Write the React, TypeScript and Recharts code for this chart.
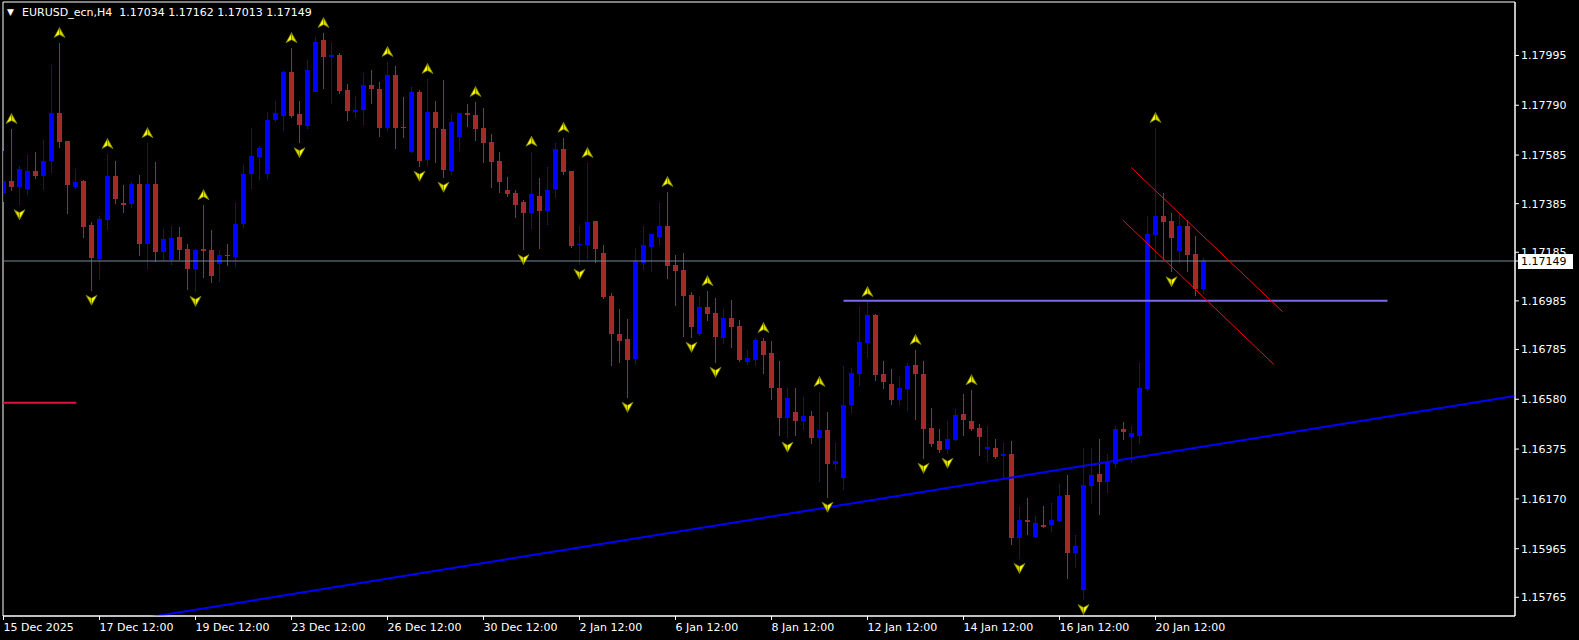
import { ComposedChart, Bar, XAxis, YAxis, Scatter, ReferenceLine, ReferenceArea } from "recharts";

// EURUSD H4 candles (bar 0 = leftmost)
const opens = [
  1.1743, 1.17479, 1.17455, 1.17446, 1.17519, 1.175, 1.17562, 1.17758, 1.17643, 1.17455,
  1.17478, 1.17297, 1.17158, 1.17317, 1.17499, 1.17386, 1.17383, 1.17466, 1.17219, 1.17466,
  1.17186, 1.17153, 1.17247, 1.17198, 1.17117, 1.17198, 1.17194, 1.17138, 1.17173, 1.17167,
  1.17301, 1.17507, 1.17578, 1.17507, 1.17729, 1.17745, 1.17927, 1.17754, 1.17704, 1.17844,
  1.18058, 1.17988, 1.17997, 1.17853, 1.17762, 1.1777, 1.17873, 1.17857, 1.17696, 1.17914,
  1.17702, 1.17599, 1.17844, 1.17566, 1.17762, 1.17692, 1.17521, 1.1766, 1.17758, 1.1775,
  1.17696, 1.17639, 1.1756, 1.17441, 1.17429, 1.17393, 1.17348, 1.17416, 1.17356, 1.17446,
  1.1761, 1.17519, 1.17215, 1.17216, 1.17313, 1.17182, 1.17006, 1.16848, 1.16828, 1.16745,
  1.17142, 1.17208, 1.17249, 1.17293, 1.17132, 1.17112, 1.1701, 1.1685, 1.1696, 1.16935,
  1.16833, 1.16914, 1.16881, 1.16734, 1.16743, 1.16819, 1.1677, 1.16628, 1.16504, 1.16527,
  1.16492, 1.16512, 1.16422, 1.16455, 1.16315, 1.16257, 1.16558, 1.16685, 1.16811, 1.16927,
  1.16684, 1.16643, 1.16578, 1.16623, 1.16721, 1.16684, 1.16463, 1.16408, 1.16376, 1.16413,
  1.16519, 1.1649, 1.16461, 1.16376, 1.1638, 1.16347, 1.16355, 1.1601, 1.16084, 1.16014,
  1.16063, 1.16063, 1.1608, 1.16187, 1.15948, 1.15796, 1.16224, 1.16273, 1.1624, 1.16314,
  1.16457, 1.16425, 1.16429, 1.16622, 1.17255, 1.17334, 1.17313, 1.1719, 1.17292, 1.17177,
  1.17034,
];
const highs = [
  1.17601, 1.17692, 1.1754, 1.17585, 1.17597, 1.17645, 1.17955, 1.18046, 1.17643, 1.17527,
  1.17481, 1.17309, 1.17333, 1.17589, 1.1756, 1.17461, 1.17474, 1.17503, 1.17634, 1.17558,
  1.1728, 1.17293, 1.17289, 1.17219, 1.17198, 1.17379, 1.17276, 1.17194, 1.17219, 1.17387,
  1.17544, 1.17696, 1.17622, 1.17762, 1.17807, 1.17931, 1.18025, 1.17807, 1.17976, 1.18071,
  1.18087, 1.18046, 1.18005, 1.17877, 1.17828, 1.17922, 1.17935, 1.17885, 1.17968, 1.17951,
  1.17824, 1.17865, 1.17853, 1.17898, 1.17807, 1.17894, 1.17754, 1.17758, 1.17795, 1.17803,
  1.17778, 1.17671, 1.17597, 1.17494, 1.17441, 1.174, 1.17599, 1.1749, 1.17537, 1.17636,
  1.17656, 1.17519, 1.17293, 1.17552, 1.17313, 1.17215, 1.17017, 1.16951, 1.1691, 1.17202,
  1.17293, 1.1726, 1.17388, 1.17433, 1.17174, 1.17182, 1.17023, 1.17006, 1.17025, 1.16998,
  1.16951, 1.16988, 1.16906, 1.16782, 1.16832, 1.16832, 1.1682, 1.16737, 1.16628, 1.16628,
  1.16591, 1.16532, 1.1661, 1.16527, 1.164, 1.16717, 1.16709, 1.1696, 1.1698, 1.16931,
  1.16737, 1.16704, 1.16671, 1.16729, 1.16783, 1.16737, 1.16545, 1.16457, 1.1649, 1.1654,
  1.16601, 1.16617, 1.16477, 1.16469, 1.16417, 1.16401, 1.16409, 1.16137, 1.16174, 1.161,
  1.16141, 1.16154, 1.16232, 1.16269, 1.16022, 1.1638, 1.1638, 1.16417, 1.16355, 1.16469,
  1.16486, 1.16469, 1.16729, 1.17334, 1.17696, 1.17428, 1.17346, 1.17346, 1.17317, 1.17251,
  1.17162,
];
const lows = [
  1.1739, 1.17438, 1.17379, 1.17422, 1.17488, 1.17442, 1.17512, 1.17615, 1.17343, 1.17446,
  1.17245, 1.17027, 1.17072, 1.17278, 1.17385, 1.17348, 1.17368, 1.17171, 1.17118, 1.17145,
  1.1715, 1.17134, 1.17153, 1.17029, 1.17022, 1.1708, 1.17057, 1.17061, 1.17129, 1.17125,
  1.17286, 1.17446, 1.17483, 1.17486, 1.17722, 1.17685, 1.17739, 1.17634, 1.17692, 1.17844,
  1.17857, 1.17795, 1.17836, 1.17725, 1.17737, 1.17708, 1.17795, 1.17659, 1.17684, 1.17611,
  1.17656, 1.17595, 1.17537, 1.17541, 1.17553, 1.17492, 1.17503, 1.17603, 1.17702, 1.17644,
  1.17553, 1.17451, 1.1743, 1.17414, 1.17327, 1.17194, 1.17282, 1.17199, 1.17297, 1.17409,
  1.17504, 1.17204, 1.17134, 1.17157, 1.17142, 1.16994, 1.16718, 1.1673, 1.16586, 1.16726,
  1.17112, 1.17105, 1.17215, 1.17076, 1.16965, 1.16837, 1.16833, 1.16842, 1.16903, 1.1673,
  1.16808, 1.16792, 1.16734, 1.16722, 1.16718, 1.16685, 1.16578, 1.1643, 1.16422, 1.1643,
  1.16455, 1.16397, 1.16241, 1.16175, 1.1629, 1.16208, 1.16523, 1.16636, 1.16751, 1.16656,
  1.16623, 1.16558, 1.16558, 1.16533, 1.16496, 1.16335, 1.16385, 1.1636, 1.16356, 1.16409,
  1.16429, 1.1645, 1.16347, 1.16322, 1.16335, 1.16252, 1.15981, 1.15923, 1.16022, 1.1601,
  1.16051, 1.16034, 1.16075, 1.15841, 1.15886, 1.15754, 1.1615, 1.16104, 1.16195, 1.16298,
  1.16413, 1.16318, 1.16397, 1.16613, 1.17148, 1.17152, 1.17103, 1.1714, 1.17103, 1.17006,
  1.17013,
];
const closes = [
  1.17479, 1.17455, 1.17527, 1.17519, 1.175, 1.1756, 1.17758, 1.1764, 1.17463, 1.17474,
  1.1729, 1.17162, 1.17322, 1.17499, 1.17405, 1.17381, 1.17466, 1.17219, 1.17466, 1.17186,
  1.17239, 1.17243, 1.17194, 1.17117, 1.17194, 1.1719, 1.17088, 1.17173, 1.17171, 1.17301,
  1.17507, 1.17581, 1.17614, 1.17729, 1.17758, 1.17927, 1.17745, 1.17708, 1.17935, 1.1805,
  1.17988, 1.17997, 1.17848, 1.17766, 1.1777, 1.17873, 1.17857, 1.17696, 1.17914, 1.17698,
  1.17696, 1.17844, 1.17562, 1.17762, 1.17698, 1.17525, 1.17721, 1.17758, 1.17751, 1.17693,
  1.17636, 1.17558, 1.17474, 1.17426, 1.17381, 1.17348, 1.17425, 1.17356, 1.17441, 1.1761,
  1.17516, 1.17212, 1.17218, 1.17309, 1.172, 1.17002, 1.1685, 1.16821, 1.16743, 1.17149,
  1.17215, 1.1726, 1.17293, 1.1713, 1.17109, 1.17006, 1.16878, 1.1696, 1.16932, 1.16837,
  1.16914, 1.16878, 1.16743, 1.1675, 1.16824, 1.16763, 1.16628, 1.16504, 1.16585, 1.16492,
  1.16512, 1.16422, 1.16455, 1.16315, 1.16326, 1.16556, 1.16688, 1.16816, 1.16927, 1.1668,
  1.16652, 1.16578, 1.16626, 1.16717, 1.16685, 1.16459, 1.16397, 1.16372, 1.16416, 1.16515,
  1.16495, 1.16458, 1.16425, 1.16384, 1.16343, 1.16355, 1.1601, 1.16084, 1.16075, 1.16071,
  1.16055, 1.16084, 1.16182, 1.15948, 1.15977, 1.16228, 1.16269, 1.1624, 1.16318, 1.16457,
  1.16445, 1.1644, 1.16626, 1.1726, 1.17334, 1.1731, 1.17244, 1.17292, 1.17173, 1.17033,
  1.17149,
];

const timeTickIdx = [0, 12, 24, 36, 48, 60, 72, 84, 96, 108, 120, 132, 144];
const timeLabels = [
  "15 Dec 2025", "17 Dec 12:00", "19 Dec 12:00", "23 Dec 12:00", "26 Dec 12:00",
  "30 Dec 12:00", "2 Jan 12:00", "6 Jan 12:00", "8 Jan 12:00", "12 Jan 12:00",
  "14 Jan 12:00", "16 Jan 12:00", "20 Jan 12:00",
];
const priceTicks = [
  1.17995, 1.1779, 1.17585, 1.17385, 1.17185, 1.16985, 1.16785, 1.1658, 1.16375, 1.1617, 1.15965, 1.15765,
];
const bid = 1.17149;

const fractalUp = [1, 7, 13, 18, 25, 36, 40, 48, 53, 59, 66, 70, 73, 83, 88, 95, 102, 108, 114, 121, 144];
const fractalDown = [2, 11, 24, 37, 52, 55, 65, 72, 78, 86, 89, 98, 103, 115, 118, 127, 135, 146];

// drawn objects: [bar index, price]
const trendLine = [{ i: 18, p: 1.15682 }, { i: 188.9, p: 1.16593 }];
const levelLine = [{ i: 105, p: 1.16985 }, { i: 173, p: 1.16985 }];
const channelUpper = [{ i: 140.95, p: 1.17534 }, { i: 159.9, p: 1.1694 }];
const channelLower = [{ i: 139.9, p: 1.17318 }, { i: 158.8, p: 1.16723 }];
const leftMark = [{ i: -0.06, p: 1.16566 }, { i: 9.1, p: 1.16566 }];

const candles = opens.map((o, i) => ({
  i,
  open: o,
  high: highs[i],
  low: lows[i],
  close: closes[i],
  range: [lows[i], highs[i]],
}));
const upPts = fractalUp.map((i) => ({ i, v: highs[i] }));
const downPts = fractalDown.map((i) => ({ i, v: lows[i] }));

const FONT = "DejaVu Sans";
const BULL = "#0000ff";
const BEAR = "#a52a2a";

const Candle = (props: any) => {
  const { x, y, width, height, payload } = props;
  if (!payload) return null;
  const { open, close, high, low } = payload;
  const cx = Math.floor(x + width / 2) + 0.5;
  const yOf = (v: number) => y + ((high - v) / (high - low)) * height;
  const color = close >= open ? BULL : BEAR;
  const hi = Math.round(yOf(high));
  const lo = Math.round(yOf(low));
  const top = Math.round(Math.min(yOf(open), yOf(close)));
  const bot = Math.round(Math.max(yOf(open), yOf(close)));
  return (
    <g shapeRendering="crispEdges">
      <rect x={cx - 0.5} y={hi} width={1} height={Math.max(1, lo - hi)} fill={color} />
      <rect x={cx - 2.5} y={top} width={5} height={Math.max(1, bot - top)} fill={color} />
    </g>
  );
};

// fractal marks: yellow arrowheads, left facet bright, right facet shaded
const UpArrow = (props: any) => {
  const { cx, cy } = props;
  const y = cy - 10;
  return (
    <g>
      <polygon points={`${cx},${y - 5.5} ${cx},${y + 1.5} ${cx - 5.5},${y + 4.5}`} fill="#ffff00" stroke="#7a7a00" strokeWidth={0.7} />
      <polygon points={`${cx},${y - 5.5} ${cx + 5.5},${y + 4.5} ${cx},${y + 1.5}`} fill="#d8d800" stroke="#7a7a00" strokeWidth={0.7} />
    </g>
  );
};

const DownArrow = (props: any) => {
  const { cx, cy } = props;
  const y = cy + 9;
  return (
    <g>
      <polygon points={`${cx},${y + 5.5} ${cx},${y - 1.5} ${cx - 5.5},${y - 4.5}`} fill="#d8d800" stroke="#7a7a00" strokeWidth={0.7} />
      <polygon points={`${cx},${y + 5.5} ${cx + 5.5},${y - 4.5} ${cx},${y - 1.5}`} fill="#ffff00" stroke="#7a7a00" strokeWidth={0.7} />
    </g>
  );
};

const TimeTick = (props: any) => {
  const { x, y, payload } = props;
  const label = timeLabels[timeTickIdx.indexOf(payload.value)];
  return (
    <text x={x} y={y} dy={9} fill="#ffffff" fontSize={11} fontFamily={FONT} textAnchor="start">
      {label}
    </text>
  );
};

const PriceTick = (props: any) => {
  const { x, y, payload } = props;
  const v = payload.value;
  if (Math.abs(v - bid) < 1e-9) {
    return (
      <g>
        <rect x={x - 3} y={y - 7} width={55} height={15} fill="#ffffff" />
        <text x={x} y={y} dy={4} fill="#000000" fontSize={11} fontFamily={FONT} textAnchor="start">
          {v.toFixed(5)}
        </text>
      </g>
    );
  }
  return (
    <text x={x} y={y} dy={4} fill="#ffffff" fontSize={11} fontFamily={FONT} textAnchor="start">
      {v.toFixed(5)}
    </text>
  );
};

const seg = (pts: { i: number; p: number }[]) => pts.map((d) => ({ x: d.i, y: d.p }));

export default function App() {
  return (
    <div style={{ position: "fixed", left: 0, top: 0, width: 1579, height: 640, background: "#000000" }}>
      <ComposedChart width={1579} height={640} data={candles} margin={{ top: 2, right: 0, left: 3, bottom: 0 }}>
        <XAxis
          dataKey="i"
          type="number"
          domain={[-0.0625, 188.9375]}
          allowDataOverflow
          ticks={timeTickIdx}
          interval={0}
          tick={<TimeTick />}
          tickSize={4}
          height={24}
          stroke="#ffffff"
        />
        <YAxis
          orientation="right"
          type="number"
          domain={[1.15688, 1.18215]}
          allowDataOverflow
          ticks={[...priceTicks, bid]}
          interval={0}
          tick={<PriceTick />}
          tickSize={4}
          width={64}
          stroke="#ffffff"
        />
        <ReferenceArea
          x1={-0.0625}
          x2={188.9375}
          y1={1.15688}
          y2={1.18215}
          fill="none"
          fillOpacity={0}
          stroke="#ffffff"
          strokeWidth={1}
          ifOverflow="visible"
        />
        <ReferenceLine y={bid} stroke="#778899" strokeWidth={1} ifOverflow="visible" />
        <Bar dataKey="range" barSize={5} shape={<Candle />} isAnimationActive={false} />
        <ReferenceLine segment={seg(leftMark)} stroke="#dc143c" strokeWidth={2} ifOverflow="visible" />
        <ReferenceLine segment={seg(trendLine)} stroke="#0000ff" strokeWidth={2} ifOverflow="hidden" />
        <ReferenceLine segment={seg(levelLine)} stroke="#7b68ee" strokeWidth={2} ifOverflow="visible" />
        <ReferenceLine segment={seg(channelUpper)} stroke="#ff0000" strokeWidth={1} ifOverflow="visible" />
        <ReferenceLine segment={seg(channelLower)} stroke="#ff0000" strokeWidth={1} ifOverflow="visible" />
        <Scatter data={upPts} dataKey="v" shape={<UpArrow />} isAnimationActive={false} />
        <Scatter data={downPts} dataKey="v" shape={<DownArrow />} isAnimationActive={false} />
      </ComposedChart>
      <div
        style={{
          position: "absolute",
          left: 7,
          top: 6,
          color: "#ffffff",
          fontFamily: FONT,
          fontSize: 9,
          lineHeight: "13px",
        }}
      >
        ▼
      </div>
      <div
        style={{
          position: "absolute",
          left: 22,
          top: 6,
          color: "#ffffff",
          fontFamily: FONT,
          fontSize: 11,
          lineHeight: "13px",
          whiteSpace: "pre",
        }}
      >
        {"EURUSD_ecn,H4  1.17034 1.17162 1.17013 1.17149"}
      </div>
    </div>
  );
}
